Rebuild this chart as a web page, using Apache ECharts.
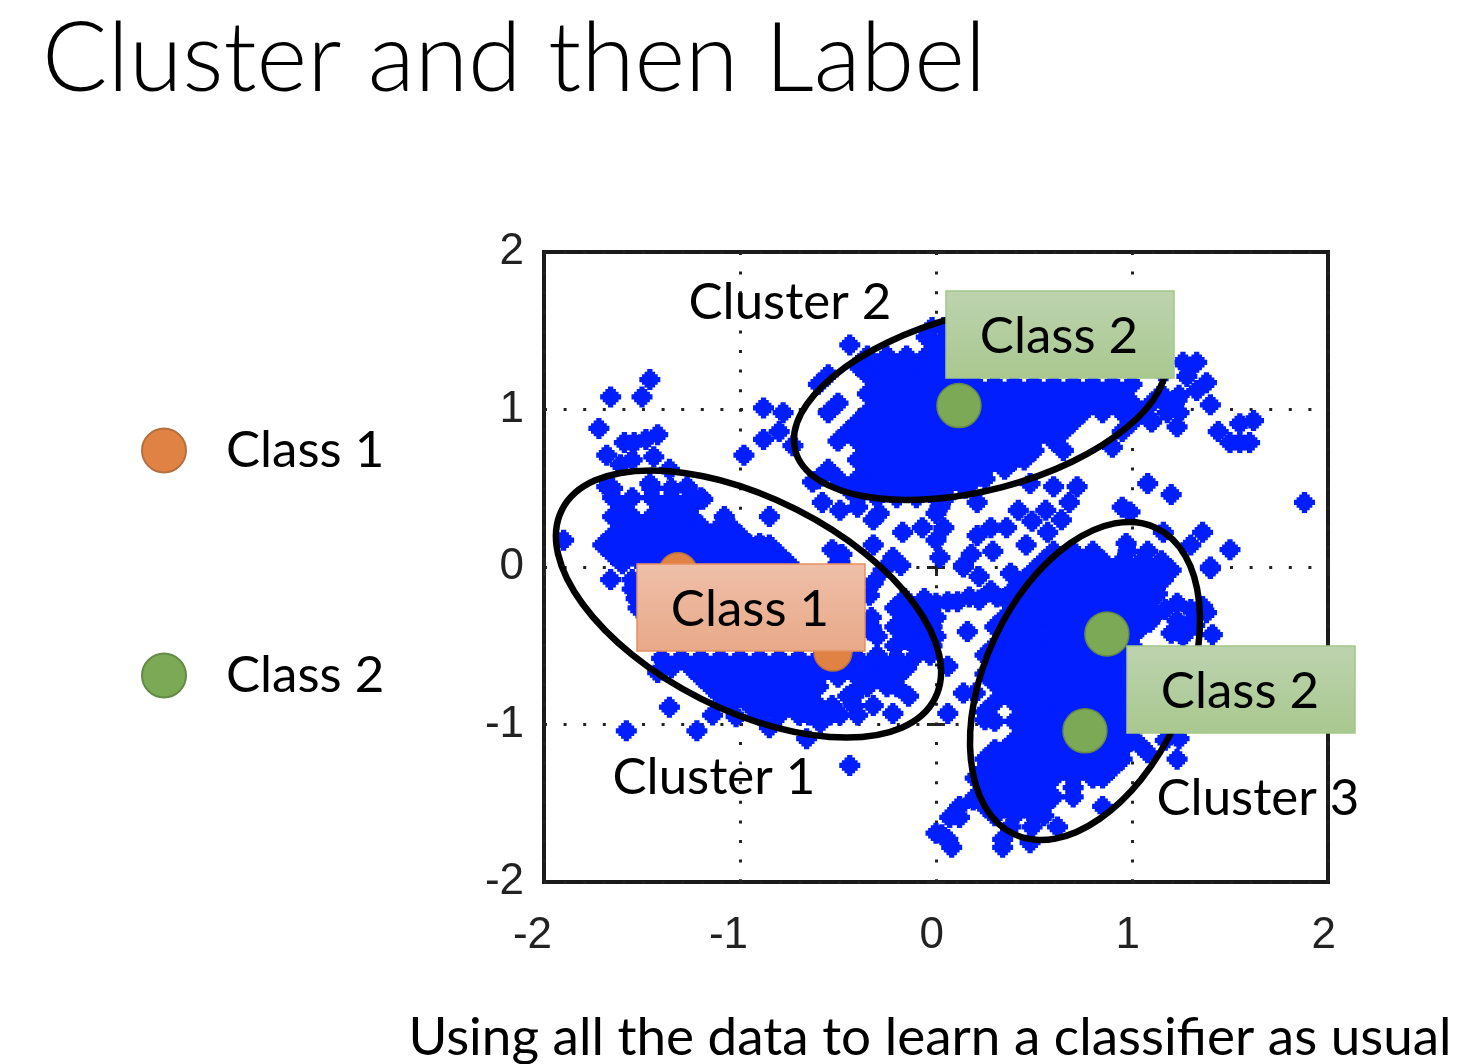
<!DOCTYPE html>
<html>
<head>
<meta charset="utf-8">
<script src="https://cdn.jsdelivr.net/npm/echarts@6/dist/echarts.min.js"></script>
<style>
  html, body { margin: 0; padding: 0; background: #fff; }
  #main { width: 1482px; height: 1064px; }
</style>
</head>
<body>
<div id="main"></div>
<script>
// tick labels
var xTicks = [-2, -1, 0, 1, 2];
var yTicks = [-2, -1, 0, 1, 2];

// labelled samples
var class1Points = [[-1.316, -0.03], [-0.526, -0.54]];
var class2Points = [[0.117, 1.025], [0.872, -0.425], [0.76, -1.04]];

// unlabelled samples: dense parts as [y, [x, x, ...]]
var cluster1Rows = [
  [0.50, [-1.65, -1.45, -1.35, -1.27]],
  [0.44, [-1.65, -1.55, -1.45, -1.35, -1.25, -1.2]],
  [0.38, [-1.6, -1.4, -1.3, -1.25]],
  [0.32, [-1.65, -1.55, -1.45, -1.35, -1.25, -1.08]],
  [0.26, [-1.6, -1.5, -1.4, -1.3, -1.2, -1.1, -1.05]],
  [0.20, [-1.65, -1.55, -1.45, -1.35, -1.25, -1.15, -1.05, -1.0]],
  [0.14, [-1.7, -1.6, -1.5, -1.4, -1.3, -1.2, -1.1, -1.0, -0.95, -0.85]],
  [0.08, [-1.65, -1.55, -1.45, -1.35, -1.25, -1.15, -1.05, -0.95, -0.85, -0.8, -0.48]],
  [0.02, [-1.6, -1.5, -1.4, -1.3, -1.2, -1.1, -1.0, -0.9, -0.8, -0.75, -0.5]],
  [-0.20, [-0.16, -0.06]],
  [-0.26, [-0.21, -0.11, -0.03]],
  [-0.32, [-0.33, -0.16, -0.06, 0]],
  [-0.38, [-0.33, -0.21, -0.11, -0.02]],
  [-0.44, [-0.3, -0.16, -0.06, 0]],
  [-0.50, [-0.21, -0.11, -0.02]],
  [-0.56, [-0.3, -0.1, -0.03]],
  [-0.58, [-1.4, -1.3, -1.2, -1.1, -1.0, -0.9, -0.8, -0.7, -0.6, -0.5, -0.4, -0.3, -0.2]],
  [-0.64, [-1.35, -1.25, -1.15, -1.05, -0.95, -0.85, -0.75, -0.65, -0.55, -0.45, -0.35, -0.25, -0.15]],
  [-0.70, [-1.2, -1.1, -1.0, -0.9, -0.8, -0.7, -0.6, -0.5, -0.4, -0.3, -0.27, -0.2]],
  [-0.76, [-1.15, -1.05, -0.95, -0.85, -0.75, -0.65, -0.6, -0.39, -0.35, -0.25, -0.2]],
  [-0.82, [-1.1, -1.0, -0.9, -0.8, -0.7, -0.65, -0.45, -0.42, -0.14]],
  [-0.88, [-1.05, -0.95, -0.85, -0.75, -0.65, -0.6, -0.53, -0.42, -0.32]],
  [-0.94, [-0.9, -0.8, -0.7, -0.65, -0.54, -0.49, -0.4]]
];
var cluster2Rows = [
  [1.52, [-0.02, 0.04]],
  [1.46, [-0.05, 0.05]],
  [1.41, [-0.44, 0]],
  [1.34, [-0.35, -0.25, -0.15, -0.05, 0.05]],
  [1.28, [-0.4, -0.3, -0.2, -0.1, 0, 0.1]],
  [1.22, [-0.55, -0.35, -0.25, -0.15, -0.05, 0.05, 0.15]],
  [1.16, [-0.6, -0.3, -0.2, -0.1, 0, 0.1, 0.2, 0.3, 0.4, 0.5, 0.6, 0.7, 0.8, 0.9, 1.0]],
  [1.10, [-0.35, -0.25, -0.15, -0.05, 0.05, 0.15, 0.25, 0.35, 0.45, 0.55, 0.65, 0.75, 0.85, 0.95, 1.15]],
  [1.04, [-0.5, -0.3, -0.2, -0.1, 0, 0.1, 0.2, 0.3, 0.4, 0.5, 0.6, 0.7, 0.8, 0.9, 1.0, 1.1]],
  [0.98, [-0.55, -0.35, -0.25, -0.15, -0.05, 0.05, 0.15, 0.25, 0.35, 0.45, 0.55, 0.65, 0.75, 0.85, 0.95, 1.05]],
  [0.92, [-0.4, -0.3, -0.2, -0.1, 0, 0.1, 0.2, 0.3, 0.4, 0.5, 0.6, 0.7, 1.0, 1.1]],
  [0.86, [-0.45, -0.35, -0.25, -0.15, -0.05, 0.05, 0.15, 0.25, 0.35, 0.45, 0.55, 0.65, 0.95]],
  [0.80, [-0.5, -0.4, -0.3, -0.2, -0.1, 0, 0.1, 0.2, 0.3, 0.4, 0.5, 0.6]],
  [0.74, [-0.35, -0.25, -0.15, -0.05, 0.05, 0.15, 0.25, 0.35, 0.45, 0.5, 0.65]],
  [0.68, [-0.4, -0.3, -0.2, -0.1, 0, 0.1, 0.2, 0.3, 0.4, 0.45]],
  [0.62, [-0.55, -0.35, -0.25, -0.15, -0.05, 0.05, 0.15, 0.25, 0.35]],
  [0.56, [-0.6, -0.5, -0.4, -0.3, -0.2, -0.1, 0, 0.1, 0.2, 0.25]],
  [0.50, [-0.45, -0.35, -0.25, -0.15, -0.05, 0.05, 0.15]],
  [0.44, [-0.4, -0.3, -0.2, -0.1, 0, 0.05]]
];
var cluster3Rows = [
  [0.15, [0.97]],
  [0.10, [0.6, 0.7, 0.8, 0.98, 1.08]],
  [0.04, [0.55, 0.65, 0.75, 0.85, 0.95, 1.05, 1.15]],
  [-0.02, [0.5, 0.6, 0.7, 0.8, 0.9, 1.0, 1.1, 1.2]],
  [-0.08, [0.45, 0.55, 0.65, 0.75, 0.85, 0.95, 1.05, 1.15]],
  [-0.14, [0.4, 0.5, 0.6, 0.7, 0.8, 0.9, 1.0, 1.1]],
  [-0.20, [0.35, 0.45, 0.55, 0.65, 0.75, 0.85, 0.95, 1.05, 1.1]],
  [-0.26, [0.4, 0.5, 0.6, 0.7, 0.8, 0.9, 1.0, 1.05]],
  [-0.32, [0.35, 0.45, 0.55, 0.65, 0.75, 0.85, 0.95, 1.05, 1.1]],
  [-0.38, [0.3, 0.4, 0.5, 0.6, 0.7, 0.8, 0.9, 1.0, 1.05]],
  [-0.44, [0.35, 0.45, 0.55, 0.65, 0.75, 0.85, 0.95, 1.0]],
  [-0.50, [0.3, 0.4, 0.5, 0.6, 0.7, 0.8, 0.9, 1.0]],
  [-0.56, [0.25, 0.35, 0.45, 0.55, 0.65, 0.75, 0.85, 0.95, 1.0]],
  [-0.62, [0.3, 0.4, 0.5, 0.6, 0.7, 0.8, 0.9, 1.0]],
  [-0.68, [0.25, 0.35, 0.45, 0.55, 0.65, 0.75, 0.85, 0.95, 1.0]],
  [-0.74, [0.3, 0.4, 0.5, 0.6, 0.7, 0.8, 0.9, 1.0]],
  [-0.80, [0.35, 0.45, 0.55, 0.65, 0.75, 0.85, 0.95]],
  [-0.86, [0.3, 0.4, 0.5, 0.6, 0.7, 0.8, 0.9, 1.0]],
  [-0.92, [0.25, 0.45, 0.55, 0.65, 0.75, 0.85, 0.95]],
  [-0.98, [0.3, 0.4, 0.5, 0.6, 0.7, 0.8, 0.9, 1.0]],
  [-1.04, [0.45, 0.55, 0.65, 0.75, 0.85, 0.95, 1.0]],
  [-1.10, [0.4, 0.5, 0.6, 0.7, 0.8, 0.9, 1.0]],
  [-1.16, [0.3, 0.35, 0.45, 0.55, 0.65, 0.75, 0.85, 0.95]],
  [-1.22, [0.25, 0.3, 0.4, 0.5, 0.6, 0.7, 0.8, 0.9, 0.95]],
  [-1.28, [0.25, 0.35, 0.45, 0.55, 0.65, 0.75, 0.85, 0.9]],
  [-1.34, [0.2, 0.3, 0.4, 0.5, 0.6, 0.7, 0.8, 0.85]],
  [-1.40, [0.25, 0.35, 0.45, 0.55, 0.7]],
  [-1.46, [0.2, 0.3, 0.4, 0.5, 0.6, 0.7]],
  [-1.52, [0.25, 0.35, 0.45, 0.55, 0.85]],
  [-1.58, [0.3, 0.4, 0.5, 0.55]]
];

// loose samples around the clusters
var topLeftPoints = [[-1.46, 1.19], [-1.5, 1.08], [-1.66, 1.08], [-1.72, 0.88], [-1.59, 0.79], [-1.54, 0.79], [-1.48, 0.81], [-1.42, 0.84], [-1.68, 0.71], [-1.61, 0.65], [-1.55, 0.68], [-1.44, 0.7], [-1.36, 0.62], [-0.88, 1.01], [-0.78, 0.98], [-0.8, 0.86], [-0.88, 0.81], [-0.98, 0.71], [-0.73, 0.77], [-1.68, 0.51], [-1.46, 0.53], [-1.27, 0.51], [-1.19, 0.43], [-1.9, 0.17]];
var middlePoints = [[-0.63, 0.54], [-0.58, 0.41], [-0.49, 0.36], [-0.4, 0.38], [-0.32, 0.3], [-0.29, 0.34], [-0.17, 0.22], [-0.07, 0.25], [0, 0.34], [-0.32, 0.14], [-0.53, 0.11], [-0.22, 0.06], [-0.49, 0.03], [0, 0.17], [-0.85, 0.32], [-0.9, 0.15], [0.02, 0.38], [0.21, 0.41], [0.04, 0.25], [0.42, 0.36], [0.56, 0.36], [0.68, 0.41], [0.6, 0.51], [0.72, 0.51], [0.48, 0.53], [0.49, 0.29], [0.28, 0.25], [0.21, 0.2], [0.36, 0.25], [0.57, 0.22], [0.64, 0.3], [0.46, 0.14], [0.29, 0.1], [0.18, 0.08], [0.02, 0.06], [0.14, 0.01]];
var topRightPoints = [[1.26, 1.3], [1.33, 1.3], [1.3, 1.27], [1.38, 1.17], [1.33, 1.12], [1.23, 1.06], [1.18, 0.98], [1.24, 0.98], [1.4, 1.03], [1.1, 0.93], [1.23, 0.89], [1.44, 0.86], [1.55, 0.91], [1.62, 0.93], [1.55, 0.79], [1.5, 0.79], [1.6, 0.79], [0.9, 0.76], [1.28, 1.21], [1.16, 1.23], [1.19, 1.02], [1.24, 1.09], [1.08, 0.53], [1.2, 0.46], [1.88, 0.41], [0.95, 0.38], [0.99, 0.35], [1.36, 0.22], [1.3, 0.14], [1.5, 0.11], [1.4, 0], [1.16, 0.22]];
var cluster1Edge = [[-1.66, -0.08], [-1.55, -0.08], [-1.55, -0.14], [-1.53, -0.2], [-1.52, -0.26], [-0.34, -0.18], [-0.34, -0.4], [-0.16, -0.21], [-0.11, -0.3], [-0.16, -0.37], [-0.05, -0.37], [-0.16, -0.46], [-0.08, -0.49], [-0.27, -0.02], [-0.18, 0.01], [-0.32, -0.1], [-1.42, -0.67], [-1.36, -0.89], [-1.14, -0.94], [-1.02, -0.95], [-0.53, -0.91], [-0.22, -0.93], [-0.85, -1.02], [-0.59, -0.99], [-0.66, -1.09], [-0.44, -1.26], [-1.22, -1.04], [-1.58, -1.04]];
var cluster3Edge = [[0.03, -1.7], [0.08, -1.78], [0.34, -1.73], [0.48, -1.75], [0.62, -1.65], [0.49, -1.65], [0.38, -1.65], [0.12, -1.59], [0.12, -1.52], [0.19, -1.48], [0.07, -1.59], [0, -1.69], [0.06, -1.73], [0.34, -1.78], [0.16, -0.41], [0.06, -0.63], [0.14, -0.8], [0.06, -0.93], [0.14, 0], [0.22, -0.06], [0.31, -0.19], [0.17, -0.19], [0.06, -0.22], [0, -0.23], [0.11, -0.22], [0.38, -0.04], [0.22, -0.21], [0.28, -0.15], [0.2, -0.8], [0.25, -0.97], [1.16, -0.08], [1.13, -0.17], [1.23, -0.23], [1.36, -0.25], [1.38, -0.29], [1.28, -0.38], [1.09, -0.35], [1.41, -0.43], [1.26, -0.44], [1.4, -0.01], [1.23, -0.34], [1.3, -0.27], [1.32, -0.37], [1.17, -0.27], [1.04, -1.13], [1.17, -1.1], [1.24, -1.09], [1.08, -1.18], [1.23, -1.22], [1.12, -0.3], [1.2, -0.42]];

function rowsToPoints(rows) {
  var out = [];
  rows.forEach(function (r) {
    r[1].forEach(function (x) { out.push([x, r[0]]); });
  });
  return out;
}

var samples = rowsToPoints(cluster1Rows).concat(rowsToPoints(cluster2Rows), rowsToPoints(cluster3Rows),
  topLeftPoints, middlePoints, topRightPoints, cluster1Edge, cluster3Edge);

var textFont = 'Lato, "Noto Sans", sans-serif';
var tickFont = '"Liberation Sans", sans-serif';
var dots = { color: '#222', width: 3, type: [3, 16.6] };
// blocky diamond like the low-res gnuplot marker
var blockDiamond = 'path://M3 0L5 0L5 1L6 1L6 2L7 2L7 3L8 3L8 5L7 5L7 6L6 6L6 7L5 7L5 8L3 8L3 7L2 7L2 6L1 6L1 5L0 5L0 3L1 3L1 2L2 2L2 1L3 1Z';

function ellipseMark(cx, cy, rx, ry, rotation) {
  return {
    type: 'ellipse', x: cx, y: cy, rotation: rotation, z: 10, silent: true,
    shape: { cx: 0, cy: 0, rx: rx, ry: ry },
    style: { fill: 'none', stroke: '#000', lineWidth: 6.5 }
  };
}
function boxMark(x, y, w, h, top, bottom, border) {
  return {
    type: 'rect', x: x, y: y, z: 20, silent: true,
    shape: { x: 0, y: 0, width: w, height: h },
    style: {
      fill: new echarts.graphic.LinearGradient(0, 0, 0, 1, [{ offset: 0, color: top }, { offset: 1, color: bottom }]),
      stroke: border, lineWidth: 1.5
    }
  };
}
function textMark(str, x, y, size) {
  return {
    type: 'text', x: x, y: y, z: 30, silent: true,
    style: { text: str, fill: '#000', font: size + 'px ' + textFont, textAlign: 'center', textVerticalAlign: 'middle' }
  };
}

var chart = echarts.init(document.getElementById('main'));
chart.setOption({
  animation: false,
  title: {
    text: 'Cluster and then Label', left: 37, top: 6,
    textStyle: { fontFamily: textFont, fontWeight: 300, fontSize: 97, color: '#000' }
  },
  legend: {
    data: ['Class 1', 'Class 2'], orient: 'vertical', left: 141, top: 425, padding: 0,
    itemWidth: 44, itemHeight: 44, itemGap: 174, icon: 'circle',
    textStyle: { fontFamily: textFont, fontSize: 51, color: '#000', padding: [0, 0, 0, 35] }
  },
  grid: { left: 544, right: 154, top: 252, bottom: 182, show: true, borderColor: '#1a1a1a', borderWidth: 4, backgroundColor: '#fff' },
  xAxis: [0, 1].map(function (i) {
    return {
      type: 'value', min: xTicks[0], max: xTicks[4], interval: 1, position: i ? 'top' : 'bottom',
      axisLine: { show: false },
      axisTick: { show: true, inside: true, length: 9, lineStyle: { color: '#222', width: 3 } },
      axisLabel: { show: !i, margin: 32, align: 'right', padding: [0, -8, 0, 0], color: '#222', fontSize: 44, fontFamily: tickFont },
      splitLine: { show: !i, lineStyle: dots }
    };
  }),
  yAxis: [0, 1].map(function (i) {
    return {
      type: 'value', min: yTicks[0], max: yTicks[4], interval: 1, position: i ? 'right' : 'left',
      axisLine: { show: false },
      axisTick: { show: true, inside: true, length: 9, lineStyle: { color: '#222', width: 3 } },
      axisLabel: { show: !i, margin: 20, padding: [19, 0, 0, 0], color: '#222', fontSize: 44, fontFamily: tickFont },
      splitLine: { show: !i, lineStyle: dots }
    };
  }),
  series: [
    { name: 'Samples', type: 'scatter', symbol: blockDiamond, symbolSize: 21, data: samples, itemStyle: { color: '#001EFF', opacity: 1 }, z: 3 },
    { name: 'Class 1', type: 'scatter', symbolSize: 38, data: class1Points, z: 15, itemStyle: { color: '#E08244', borderColor: '#B5703F', borderWidth: 1.5, opacity: 1 } },
    { name: 'Class 2', type: 'scatter', symbolSize: 44, data: class2Points, z: 15, itemStyle: { color: '#7CA955', borderColor: '#658A45', borderWidth: 1.5, opacity: 1 } }
  ],
  graphic: [
    ellipseMark(748.5, 604, 209, 106, -0.468),
    ellipseMark(980, 402, 191, 88, 0.257),
    ellipseMark(1085, 681, 168.8, 100, 1.14),
    boxMark(637, 564, 228, 87, '#EFBFA9', '#E8A988', '#E59160'),
    boxMark(946, 291, 228, 87, '#BDD3AF', '#A9C88F', '#A3C68B'),
    boxMark(1127, 646, 228, 87, '#BDD3AF', '#A9C88F', '#A3C68B'),
    textMark('Class 1', 750, 610, 51),
    textMark('Class 2', 1059, 337, 51),
    textMark('Class 2', 1240, 692, 51),
    textMark('Cluster 2', 790, 303, 51),
    textMark('Cluster 1', 714, 778, 51),
    textMark('Cluster 3', 1258, 799, 51),
    textMark('Using all the data to learn a classifier as usual', 930, 1038, 53)
  ]
});
</script>
</body>
</html>
